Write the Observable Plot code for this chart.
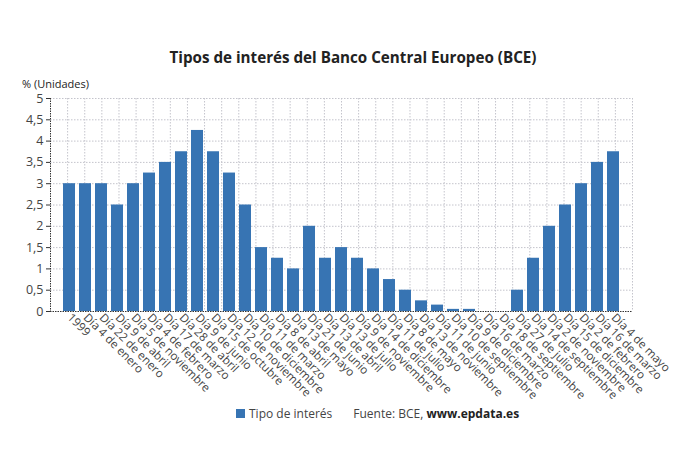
<!DOCTYPE html>
<html>
<head>
<meta charset="utf-8">
<script src="https://cdn.jsdelivr.net/npm/d3@7"></script>
<script src="https://cdn.jsdelivr.net/npm/@observablehq/plot@0.6"></script>
<style>
  body { margin: 0; background: #fff; font-family: "Open Sans", sans-serif; }
  #wrap { position: relative; width: 690px; height: 461px; overflow: hidden; }
  #title { position: absolute; left: 8px; width: 690px; top: 47px; text-align: center; font-weight: 700; font-size: 15.2px; color: #222; }
  #ylab { position: absolute; left: 22px; top: 78px; font-size: 11px; line-height: 11px; color: #222; }
  .layer { position: absolute; left: 0; top: 75px; }
  #legend { position: absolute; left: 236px; top: 405px; font-size: 12px; color: #444; display: flex; align-items: center; white-space: nowrap; }
  #legend .sw { width: 9px; height: 9px; background: #3774b3; margin-right: 4px; }
  #legend .src { margin-left: 21px; }
  #legend b { color: #222; font-weight: 700; }
</style>
</head>
<body>
<div id="wrap">
  <div id="title">Tipos de interés del Banco Central Europeo (BCE)</div>
  <div id="ylab">% (Unidades)</div>
  <div id="under" class="layer"></div>
  <div id="main" class="layer"></div>
  <div id="legend"><span class="sw"></span><span>Tipo de interés</span><span class="src">Fuente: BCE, <b>www.epdata.es</b></span></div>
</div>
<script>
const labels = [
  "1999", "Día 4 de enero", "Día 22 de enero", "Día 9 de abril", "Día 5 de noviembre",
  "Día 4 de febrero", "Día 17 de marzo", "Día 28 de abril", "Día 9 de junio", "Día 15 de octubre",
  "Día 12 de noviembre", "Día 10 de diciembre", "Día 11 de marzo", "Día 8 de abril", "Día 13 de mayo",
  "Día 21 de junio", "Día 13 de abril", "Día 13 de julio", "Día 9 de noviembre", "Día 14 de diciembre",
  "Día 11 de julio", "Día 8 de mayo", "Día 13 de noviembre", "Día 11 de junio", "Día 10 de septiembre",
  "Día 9 de diciembre", "Día 16 de marzo", "Día 18 de septiembre", "Día 27 de julio", "Día 14 de septiembre",
  "Día 2 de noviembre", "Día 15 de diciembre", "Día 2 de febrero", "Día 16 de marzo", "Día 4 de mayo"
];
const values = [
  3, 3, 3, 2.5, 3,
  3.25, 3.5, 3.75, 4.25, 3.75,
  3.25, 2.5, 1.5, 1.25, 1,
  2, 1.25, 1.5, 1.25, 1,
  0.75, 0.5, 0.25, 0.15, 0.05,
  0.05, 0, 0, 0.5, 1.25,
  2, 2.5, 3, 3.5, 3.75
];
const yTicks = [0, 0.5, 1, 1.5, 2, 2.5, 3, 3.5, 4, 4.5, 5];

const idx = d3.range(labels.length);
const data = idx.map(i => ({i, v: values[i]}));

const W = 690, H = 331, ML = 50, MR = 58, MT = 23, MB = 95;
const BLUE = "#3774b3";

const under = Plot.plot({
  width: W, height: H, marginLeft: ML, marginRight: MR, marginTop: MT, marginBottom: MB,
  style: {background: "transparent"},
  x: {type: "linear", domain: [0, labels.length - 1], axis: null},
  y: {domain: [0, 5], axis: null},
  marks: [
    Plot.ruleY(yTicks.filter(d => d > 0), {stroke: "#c4c4cc", strokeDasharray: "1.5,1.5", strokeWidth: 1}),
    Plot.ruleX(idx.slice(1), {stroke: "#c4c4cc", strokeDasharray: "1.5,1.5", strokeWidth: 1}),
    Plot.ruleX([0], {stroke: "#333", strokeDasharray: "1.5,1", strokeWidth: 1})
  ]
});
document.getElementById("under").appendChild(under);

const main = Plot.plot({
  width: W, height: H, marginLeft: ML, marginRight: MR, marginTop: MT, marginBottom: MB,
  style: {background: "transparent", fontFamily: "Open Sans", fontSize: "11.6px", color: "#444"},
  x: {type: "band", domain: idx, paddingInner: 0.25, paddingOuter: 0.8125,
      tickFormat: i => labels[i], tickRotate: 45, tickSize: 0, tickPadding: 4, label: null},
  y: {domain: [0, 5], ticks: yTicks, tickFormat: d => String(d).replace(".", ","),
      tickSize: 4, tickPadding: 3, label: null},
  marks: [
    Plot.barY(data, {x: "i", y: "v", fill: BLUE}),
    Plot.ruleY([0], {stroke: "#333", strokeDasharray: "1.5,1", strokeWidth: 1.2})
  ]
});
main.querySelectorAll("g[aria-label='y-axis tick']").forEach(e => e.setAttribute("stroke", "#333"));
main.querySelectorAll("g[aria-label='y-axis tick label']").forEach(e => e.setAttribute("font-size", "12.5px"));
document.getElementById("main").appendChild(main);
</script>
</body>
</html>
